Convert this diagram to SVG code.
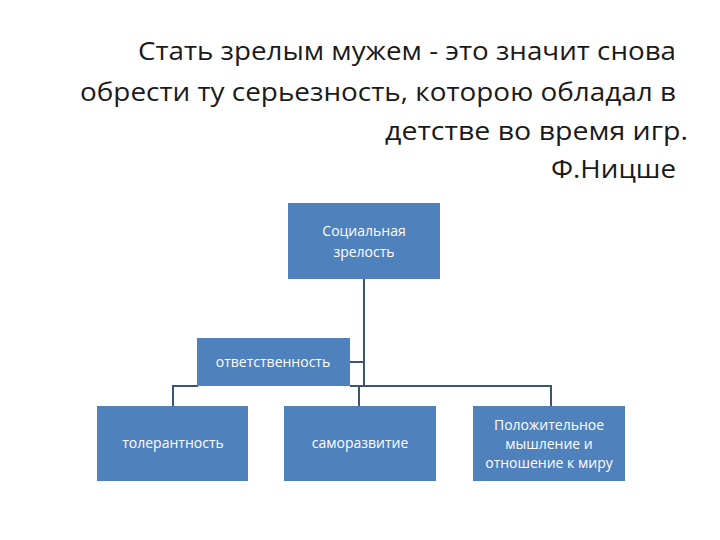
<svg xmlns="http://www.w3.org/2000/svg" width="720" height="540" viewBox="0 0 720 540">
<style>
.t{font-family:"Open Sans","Liberation Sans",sans-serif;font-size:26px;fill:#1a1a1a;text-anchor:end}
.b{fill:#4f81bd}
.l{font-family:"Open Sans","Liberation Sans",sans-serif;font-size:14px;fill:#fff;text-anchor:middle}
.c{stroke:#3b5573;stroke-width:2;fill:none}
</style>
<rect width="720" height="540" fill="#fff"/>
<g id="title">
<text class="t" x="676" y="60" textLength="538" lengthAdjust="spacingAndGlyphs">Стать зрелым мужем - это значит снова</text>
<text class="t" x="676" y="101" textLength="596" lengthAdjust="spacingAndGlyphs">обрести ту серьезность, которою обладал в</text>
<text class="t" x="688" y="140" textLength="303" lengthAdjust="spacingAndGlyphs">детстве во время игр.</text>
<text class="t" x="676" y="178" textLength="125" lengthAdjust="spacingAndGlyphs">Ф.Ницше</text>
</g>
<g id="connectors">
<path class="c" d="M364 278V386M350 362H364M173 406V386H198M350 386H551V406M359 386V406"/>
</g>
<g id="n1"><rect class="b" x="288" y="203" width="152" height="76"/><text class="l" x="364" y="236">Социальная</text><text class="l" x="364" y="257">зрелость</text></g>
<g id="n2"><rect class="b" x="197" y="338" width="153" height="48"/><text class="l" x="273" y="367">ответственность</text></g>
<g id="n3"><rect class="b" x="97" y="406" width="151" height="75"/><text class="l" x="173" y="448">толерантность</text></g>
<g id="n4"><rect class="b" x="284" y="406" width="152" height="75"/><text class="l" x="360" y="448">саморазвитие</text></g>
<g id="n5"><rect class="b" x="473" y="406" width="152" height="75"/><text class="l" x="549" y="430">Положительное</text><text class="l" x="549" y="449">мышление и</text><text class="l" x="549" y="468">отношение к миру</text></g>
</svg>
